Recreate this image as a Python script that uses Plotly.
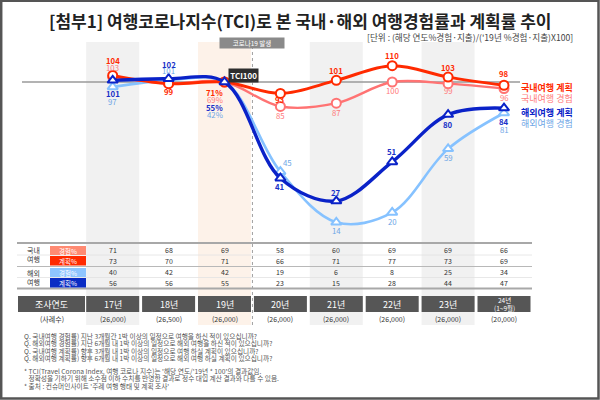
import plotly.graph_objects as go

# ---------------- data ----------------
years = ["17년", "18년", "19년", "20년", "21년", "22년", "23년", "24년"]
year_labels = ["17년", "18년", "19년", "20년", "21년", "22년", "23년", "24년<br>(1~9월)"]
samples = ["(26,000)", "(26,500)", "(26,000)", "(26,000)", "(26,000)", "(26,000)", "(26,000)", "(20,000)"]

dom_plan_tci = [104, 99, 100, 93, 101, 110, 103, 98]
dom_exp_tci = [103, 99, 100, 85, 87, 100, 99, 96]
ovs_plan_tci = [101, 102, 100, 41, 27, 51, 80, 84]
ovs_exp_tci = [97, 101, 100, 45, 14, 20, 59, 81]

dom_exp_pct = [71, 68, 69, 58, 60, 69, 69, 66]
dom_plan_pct = [73, 70, 71, 66, 71, 77, 73, 69]
ovs_exp_pct = [40, 42, 42, 19, 6, 8, 25, 34]
ovs_plan_pct = [56, 56, 55, 23, 15, 28, 44, 47]

series_names = ["국내여행 계획", "국내여행 경험", "해외여행 계획", "해외여행 경험"]

title = "[첨부1] 여행코로나지수(TCI)로 본 국내·해외 여행경험률과 계획률 추이"
unit = "[단위 : (해당 연도%경험·지출)/('19년 %경험·지출)X100]"
notes_q = [
    "Q. 국내여행 경험률) 지난 3개월간 1박 이상의 일정으로 여행을 하신 적이 있으십니까?",
    "Q. 해외여행 경험률) 지난 6개월 내 1박 이상의 일정으로 해외 여행을 하신 적이 있으십니까?",
    "Q. 국내여행 계획률) 향후 3개월 내 1박 이상의 일정으로 여행 하실 계획이 있으십니까?",
    "Q. 해외여행 계획률) 향후 6개월 내 1박 이상의 일정으로 해외 여행 하실 계획이 있으십니까?",
]
notes_b = [
    "* TCI(Travel Corona Index, 여행 코로나 지수)는 '해당 연도/'19년 * 100'의 결과값임.",
    "   정확성을 기하기 위해 소수점 이하 수치를 반영한 결과로 정수 대입 계산 결과와 다를 수 있음.",
    "* 출처 : 컨슈머인사이트 '주례 여행 행태 및 계획 조사'",
]

# ---------------- styles ----------------
FONT = "Noto Sans CJK KR"
RED, PINK, BLUE, LBLUE = "#ff2a00", "#ff7373", "#0a22c8", "#86c2ff"
RED_T, PINK_T, BLUE_T, LBLUE_T = "#ff2a00", "#ff7b7b", "#1730c8", "#6ea6e6"
W, H = 600, 400


def px(x):
    return x / W


def py(y):
    return 1 - y / H


annotations = []


def ann(x, y, text, size, color, xref="paper", yref="paper", xanchor="center", **kw):
    d = dict(x=x, y=y, xref=xref, yref=yref, text=text, showarrow=False,
             xanchor=xanchor, yanchor="middle",
             font=dict(family=FONT, size=size, color=color))
    d.update(kw)
    annotations.append(d)


fig = go.Figure()

# line series (drawing order: experience below plan)
cfg = [
    (dom_exp_tci, PINK, 2.4, "circle", PINK_T, False,
     [-9.5, None, 17, 9, 9, 8, 7, 9], [0, 0, -10, 0, 0, 0, 0, 0], dom_exp_pct, series_names[1]),
    (ovs_exp_tci, LBLUE, 2.6, "triangle-up", LBLUE_T, False,
     [15, -9.4, 32, -9, 8.5, 9, 8.5, 17], [0, 0, -10, 7, 0, 0, 0, 0], ovs_exp_pct, series_names[3]),
    (dom_plan_tci, RED, 3, "circle", RED_T, True,
     [-15, 8, 10, 6, -10, -10, -10, -12], [0, 0, -10, 0, 0, 0, 0, 0], dom_plan_pct, series_names[0]),
    (ovs_plan_tci, BLUE, 3.4, "triangle-up", BLUE_T, True,
     [13.6, -14.7, 25, 8.5, -9, -10, 9.5, 13.5], [0, 0, -10, 0, 0, 0, 0, 0], ovs_plan_pct, series_names[2]),
]

for vals, col, lw, sym, tcol, bold, dys, dxs, pcts, name in cfg:
    fig.add_trace(go.Scatter(
        x=years, y=vals, mode="lines+markers", name=name,
        line=dict(color=col, width=lw, shape="spline", smoothing=1.0),
        marker=dict(symbol=sym, size=9, color="white", line=dict(color=col, width=2)),
        hoverinfo="skip", showlegend=False, cliponaxis=False,
    ))
    for i, (v, dy, dx) in enumerate(zip(vals, dys, dxs)):
        if dy is None:
            continue
        txt = f"{pcts[i]}%" if i == 2 else f"{v}"
        if bold:
            txt = f"<b>{txt}</b>"
        ann(years[i], v, txt, 7.8, tcol, xref="x", yref="y", xshift=dx, yshift=-dy)

shapes = []
# column shading
for i, fc in [(0, "#f1f1f1"), (2, "#fdf2e9"), (4, "#f1f1f1"), (6, "#f1f1f1")]:
    shapes.append(dict(type="rect", xref="x", yref="paper", x0=i - 0.474, x1=i + 0.474,
                       y0=py(325), y1=py(42), fillcolor=fc, line=dict(width=0), layer="below"))

# TCI 100 reference line
shapes.append(dict(type="line", xref="paper", yref="y", x0=px(22), x1=px(520), y0=100, y1=100,
                   line=dict(color="#9a9a9a", width=1.6), layer="below"))
# COVID dashed line
shapes.append(dict(type="line", xref="x", yref="paper", x0=2.5, x1=2.5, y0=py(325), y1=py(47),
                   line=dict(color="#a0a0a0", width=1, dash="dot"), layer="below"))

# table lines
for y, c, w in [(243, "#a8a8a8", 2), (255, "#e2e2e2", 0.8), (266.5, "#b8b8b8", 1),
                (277.5, "#e2e2e2", 0.8), (288.5, "#a8a8a8", 2)]:
    shapes.append(dict(type="line", xref="paper", yref="paper", x0=px(17), x1=px(532),
                       y0=py(y), y1=py(y), line=dict(color=c, width=w)))

# row label boxes
row_defs = [
    ("경험%", "#ff8a72", 246, 255, dom_exp_pct, 249.5),
    ("계획%", "#ff2a00", 256, 265.5, dom_plan_pct, 260.5),
    ("경험%", "#8ec5ff", 268, 277, ovs_exp_pct, 272),
    ("계획%", "#0a2cc4", 278, 287.5, ovs_plan_pct, 282.5),
]
for lab, fc, y0, y1, vals, yc in row_defs:
    shapes.append(dict(type="rect", xref="paper", yref="paper", x0=px(50), x1=px(86),
                       y0=py(y1), y1=py(y0), fillcolor=fc, line=dict(width=0)))
    ann(px(68), py((y0 + y1) / 2), lab, 6.5, "white")
    for i, v in enumerate(vals):
        ann(years[i], py(yc), str(v), 7, "#333", xref="x")

ann(px(33), py(255), "국내<br>여행", 7, "#333")
ann(px(33), py(277), "해외<br>여행", 7, "#333")

# header row
shapes.append(dict(type="rect", xref="paper", yref="paper", x0=px(18), x1=px(85),
                   y0=py(312), y1=py(296), fillcolor="#565656", line=dict(width=0)))
ann(px(51.5), py(304), "조사연도", 9, "white")
for i, yl in enumerate(year_labels):
    shapes.append(dict(type="rect", xref="x", yref="paper", x0=i - 0.474, x1=i + 0.474,
                       y0=py(312), y1=py(296), fillcolor="#565656", line=dict(width=0)))
    ann(years[i], py(304), yl, 9 if i < 7 else 6.5, "white", xref="x")
# sample row
ann(px(51.5), py(319), "(사례수)", 7, "#333")
for i, s in enumerate(samples):
    ann(years[i], py(319), s, 7, "#333", xref="x")

# legend labels on right
for name, col, y, b in [(series_names[0], RED, 88, True), (series_names[1], PINK_T, 98.5, False),
                        (series_names[2], BLUE, 112.5, True), (series_names[3], LBLUE_T, 123, False)]:
    ann(px(519), py(y), f"<b>{name}</b>" if b else name, 9, col, xanchor="left")

# TCI100 tag and covid tag
ann(px(243), py(76), "<b>TCI100</b>", 8, "white", bgcolor="#2e2e2e", borderpad=1.2)
ann(px(252), py(43), "코로나19 발생", 6.5, "white", bgcolor="#8a8a8a", borderpad=0, width=64)

# title / unit
ann(0.5, py(20), f"<b>{title}</b>", 17, "#222")
ann(px(575), py(37), unit, 8.6, "#444", xanchor="right")

# footnotes
for k, t in enumerate(notes_q):
    ann(px(22), py(335.5 + 7.5 * k), t, 6.7, "#555", xanchor="left")
for k, t in enumerate(notes_b):
    ann(px(22), py(370.5 + 7.6 * k), t, 6.7, "#555", xanchor="left")

# frame
shapes.append(dict(type="rect", xref="paper", yref="paper", x0=px(1.2), x1=px(598.5),
                   y0=py(398.5), y1=py(0.8), line=dict(color="#555", width=2.5)))

# axis ranges (x: category index, y: TCI)
x_center0, x_step = 112.7, 55.9
y100, y_px_per_unit = 82.0, 1.631
xr = [(0 - x_center0) / x_step, (W - x_center0) / x_step]
yr = [100 - (H - y100) / y_px_per_unit, 100 + y100 / y_px_per_unit]

fig.update_layout(
    width=W, height=H, margin=dict(l=0, r=0, t=0, b=0),
    paper_bgcolor="white", plot_bgcolor="white",
    xaxis=dict(type="category", categoryarray=years, range=xr, visible=False, fixedrange=True),
    yaxis=dict(range=yr, visible=False, fixedrange=True),
    shapes=shapes, annotations=annotations, showlegend=False,
)

fig.write_html("out.html")
